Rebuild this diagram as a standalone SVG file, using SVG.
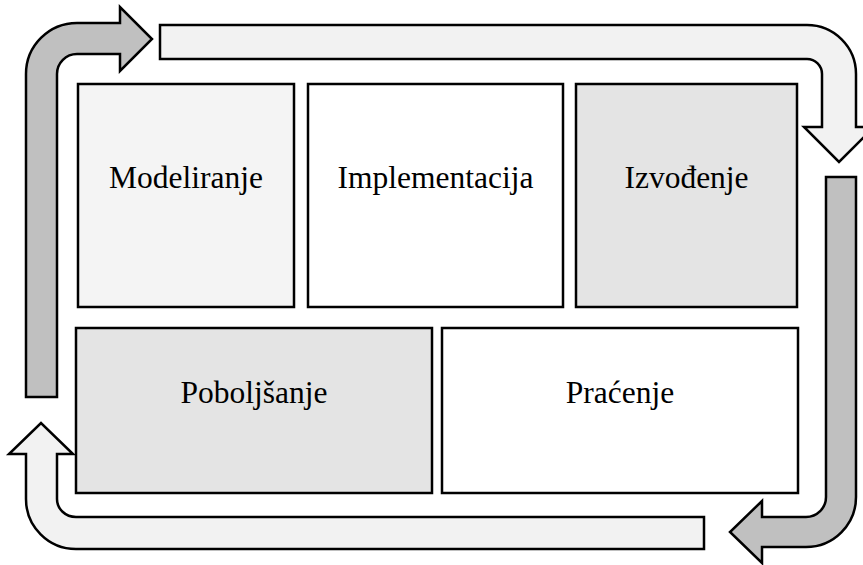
<svg xmlns="http://www.w3.org/2000/svg" width="863" height="565" viewBox="0 0 863 565">
<style>
.box{stroke:#000;stroke-width:2.5}
.lbl{font-family:"Liberation Serif","Times New Roman",serif;font-size:31.5px;fill:#000;text-anchor:middle}
.arr{stroke:#000;stroke-width:2.5;stroke-linejoin:miter}
.dark{fill:#c0c0c0}
.light{fill:#f2f2f2}
</style>
<rect width="863" height="565" fill="#fff"/>
<g id="connectors">
<path class="arr dark" d="M26 397 L26 74 A51 51 0 0 1 77 23 L120 23 L120 7 L152 39 L120 71 L120 54 L77 54 A20 20 0 0 0 57 74 L57 397 Z"/>
<path class="arr light" d="M160 25 L807 25 A49 49 0 0 1 856 74 L856 127 L874 127 L839 162 L804 127 L822 127 L822 74 A15 15 0 0 0 807 59 L160 59 Z"/>
<path class="arr dark" d="M826 177 L856 177 L856 497 A50 50 0 0 1 806 547 L762 547 L762 563 L730 532 L762 501 L762 517 L806 517 A20 20 0 0 0 826 497 Z"/>
<path class="arr light" d="M704 517 L704 549 L76 549 A50 50 0 0 1 26 499 L26 454 L9 454 L41 423 L73 454 L57 454 L57 499 A19 18 0 0 0 76 517 Z"/>
</g>
<g id="node-modeliranje">
<rect class="box" x="78" y="84" width="216" height="223" fill="#f4f4f4"/>
<text class="lbl" x="186" y="188">Modeliranje</text>
</g>
<g id="node-implementacija">
<rect class="box" x="308" y="84" width="255" height="223" fill="#ffffff"/>
<text class="lbl" x="435.5" y="188">Implementacija</text>
</g>
<g id="node-izvodjenje">
<rect class="box" x="576" y="84" width="221" height="223" fill="#e4e4e4"/>
<text class="lbl" x="686.5" y="188">Izvođenje</text>
</g>
<g id="node-poboljsanje">
<rect class="box" x="76" y="328" width="356" height="165" fill="#e4e4e4"/>
<text class="lbl" x="254" y="403">Poboljšanje</text>
</g>
<g id="node-pracenje">
<rect class="box" x="442" y="328" width="356" height="165" fill="#ffffff"/>
<text class="lbl" x="620" y="403">Praćenje</text>
</g>
</svg>
